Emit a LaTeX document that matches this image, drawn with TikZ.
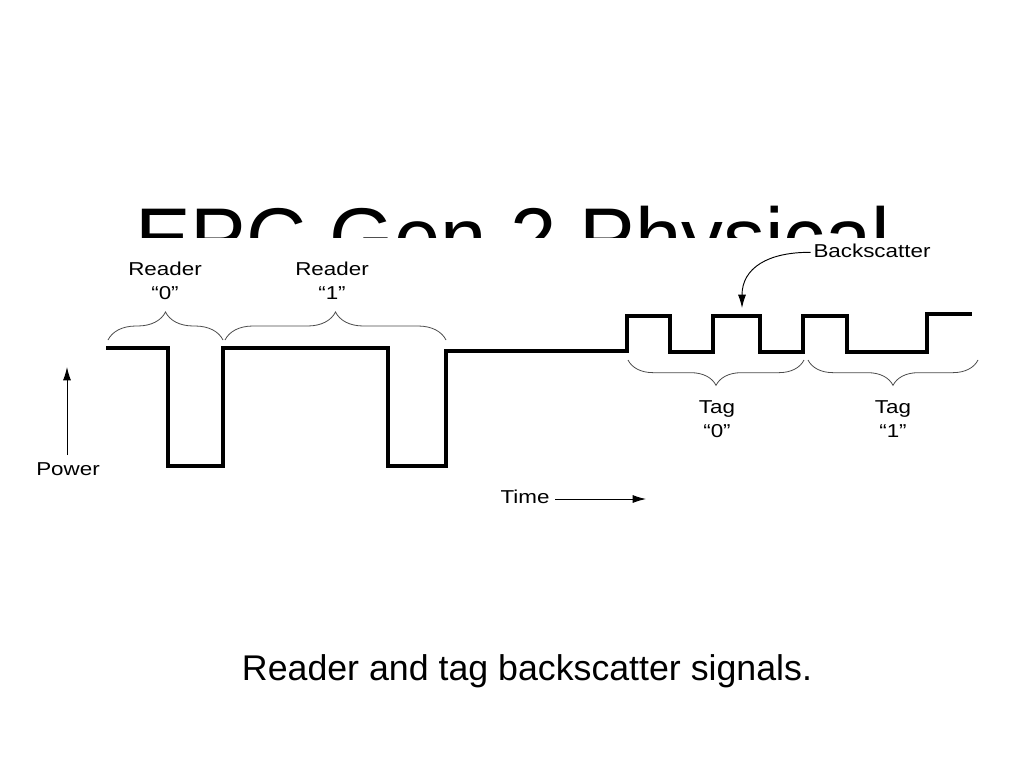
\documentclass[tikz,border=0pt]{standalone}
\usepackage{fontspec}
\setmainfont{Liberation Sans}
\usetikzlibrary{decorations.pathreplacing,arrows.meta}
\newcommand{\wtxt}[1]{\scalebox{1.2}[1]{#1}}
\begin{document}
\begin{tikzpicture}[x=0.75pt,y=-0.75pt,
  lbl/.style={font=\fontsize{14}{18}\selectfont, inner sep=0pt, align=center},
  sig/.style={line width=3pt, line join=miter},
  brc/.style={decorate, decoration={brace, amplitude=#1}, line width=0.6pt, draw=black!70},
  arr/.style={line width=0.7pt, -{Latex[length=10pt,width=6pt]}}]
\useasboundingbox (0,0) rectangle (1024,768);
% title (partly hidden by the figure)
\node[anchor=base west, inner sep=0pt, font=\fontsize{62.5}{70}\selectfont] (title) at (135,266) {EPC Gen 2 Physical};
\fill[white] (90,238) rectangle (1000,530);
% signal
\draw[sig] (106,348) -- (168,348) -- (168,466) -- (223,466) -- (223,348) -- (388,348) -- (388,466) -- (446,466) -- (446,351) -- (627,351) -- (627,316) -- (670,316) -- (670,352) -- (713,352) -- (713,316) -- (760,316) -- (760,352) -- (803,352) -- (803,316) -- (847,316) -- (847,352) -- (927,352) -- (927,314) -- (972,314);
% reader braces and labels
\draw[brc=21pt] (108,340) -- (223,340);
\draw[brc=21pt] (225,340) -- (446,340);
\node[lbl] (r0) at (165,281) {\wtxt{Reader}\\\wtxt{“0”}};
\node[lbl] (r1) at (332,281) {\wtxt{Reader}\\\wtxt{“1”}};
% tag braces and labels
\draw[brc=19pt] (804,360) -- (628,360);
\draw[brc=19pt] (978,360) -- (808,360);
\node[lbl] (t0) at (717,419) {\wtxt{Tag}\\\wtxt{“0”}};
\node[lbl] (t1) at (893,419) {\wtxt{Tag}\\\wtxt{“1”}};
% backscatter
\node[lbl] (bs) at (872,251) {\wtxt{Backscatter}};
\coordinate (bstip) at (742,308);
\draw[arr] ([xshift=-2pt,yshift=-1pt]bs.west) .. controls (768,252) and (742,268) .. (bstip);
% power
\coordinate (p0) at (67,455);
\coordinate (p1) at (67,367);
\draw[arr] (p0) -- (p1);
\node[lbl] (pow) at (68,469) {\wtxt{Power}};
% time
\node[lbl] (time) at (525,497) {\wtxt{Time}};
\coordinate (tend) at (646,499);
\draw[arr] ([xshift=4pt]time.east |- tend) -- (tend);
% caption
\node[anchor=base, inner sep=0pt, font=\fontsize{26.8}{30}\selectfont] (cap) at (527,680) {Reader and tag backscatter signals.};
\end{tikzpicture}
\end{document}
